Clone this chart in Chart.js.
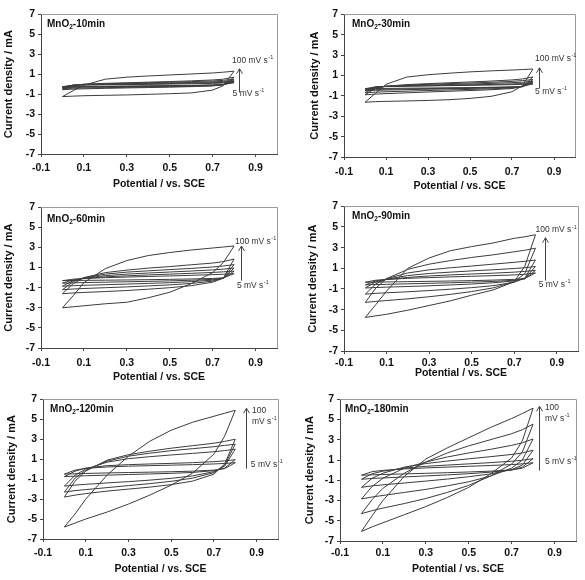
<!DOCTYPE html>
<html><head><meta charset="utf-8">
<script src="https://cdn.jsdelivr.net/npm/chart.js@4.4.1/dist/chart.umd.min.js"></script>
<style>
html,body{margin:0;padding:0;background:#fff;}
body{width:585px;height:580px;position:relative;overflow:hidden;}
canvas{position:absolute;}
</style></head><body>
<canvas id="c0"></canvas><canvas id="c1"></canvas><canvas id="c2"></canvas>
<canvas id="c3"></canvas><canvas id="c4"></canvas><canvas id="c5"></canvas>
<script>
// ---------- data ----------
const potential = [0, 0.05, 0.1, 0.2, 0.3, 0.4, 0.5, 0.6, 0.7, 0.75, 0.8];
const scanRates = [5, 10, 20, 30, 50, 100];
const xTicks = [-0.1, 0.1, 0.3, 0.5, 0.7, 0.9];
const yTicks = [-7, -5, -3, -1, 1, 3, 5, 7];
const panelNames = ['10min', '30min', '60min', '90min', '120min', '180min'];

// currents (mA) on the potential grid, one row per scan rate (5 -> 100 mV/s)
const anodic10 = [
  [-0.25, -0.1, -0.08, -0.06, -0.04, -0.02, 0.01, 0.04, 0.08, 0.11, 0.15],
  [-0.3, -0.1, -0.06, -0.03, 0.0, 0.03, 0.06, 0.1, 0.15, 0.18, 0.25],
  [-0.35, -0.1, -0.04, 0.0, 0.04, 0.08, 0.12, 0.17, 0.23, 0.27, 0.35],
  [-0.45, -0.12, -0.02, 0.04, 0.09, 0.14, 0.19, 0.25, 0.32, 0.38, 0.5],
  [-0.55, -0.15, 0.0, 0.08, 0.14, 0.2, 0.26, 0.33, 0.42, 0.5, 0.7],
  [-1.25, -0.65, -0.1, 0.5, 0.7, 0.82, 0.92, 1.02, 1.12, 1.2, 1.3]
];
const cathodic10 = [
  [-0.25, -0.23, -0.22, -0.21, -0.19, -0.17, -0.15, -0.12, -0.09, -0.05, 0.15],
  [-0.3, -0.27, -0.26, -0.24, -0.22, -0.2, -0.17, -0.14, -0.1, -0.05, 0.25],
  [-0.35, -0.32, -0.3, -0.28, -0.25, -0.22, -0.19, -0.16, -0.11, -0.04, 0.35],
  [-0.45, -0.41, -0.39, -0.35, -0.32, -0.29, -0.25, -0.21, -0.15, -0.05, 0.5],
  [-0.55, -0.5, -0.47, -0.42, -0.38, -0.34, -0.3, -0.25, -0.18, -0.05, 0.7],
  [-1.25, -1.2, -1.16, -1.12, -1.08, -1.02, -0.96, -0.88, -0.6, -0.15, 1.3]
];
const anodic30 = [
  [-0.3, -0.12, -0.09, -0.06, -0.03, 0.0, 0.03, 0.06, 0.1, 0.13, 0.18],
  [-0.4, -0.13, -0.08, -0.04, 0.0, 0.04, 0.08, 0.12, 0.17, 0.21, 0.28],
  [-0.5, -0.16, -0.07, 0.0, 0.06, 0.11, 0.16, 0.22, 0.29, 0.34, 0.42],
  [-0.7, -0.2, -0.06, 0.05, 0.13, 0.2, 0.26, 0.33, 0.42, 0.5, 0.6],
  [-0.9, -0.25, -0.05, 0.1, 0.2, 0.28, 0.36, 0.45, 0.56, 0.66, 0.85],
  [-1.63, -0.75, 0.13, 0.85, 1.07, 1.22, 1.35, 1.45, 1.53, 1.58, 1.63]
];
const cathodic30 = [
  [-0.3, -0.28, -0.27, -0.25, -0.23, -0.21, -0.19, -0.16, -0.12, -0.07, 0.18],
  [-0.4, -0.37, -0.35, -0.32, -0.29, -0.26, -0.23, -0.19, -0.14, -0.07, 0.28],
  [-0.5, -0.46, -0.43, -0.39, -0.35, -0.31, -0.27, -0.22, -0.16, -0.07, 0.42],
  [-0.7, -0.64, -0.6, -0.54, -0.48, -0.42, -0.37, -0.31, -0.22, -0.1, 0.6],
  [-0.9, -0.83, -0.78, -0.7, -0.62, -0.55, -0.48, -0.4, -0.28, -0.1, 0.85],
  [-1.63, -1.57, -1.54, -1.5, -1.45, -1.38, -1.25, -1.05, -0.6, 0.0, 1.63]
];
const anodic60 = [
  [-0.3, -0.15, -0.09, 0.0, 0.06, 0.12, 0.17, 0.23, 0.3, 0.34, 0.4],
  [-0.55, -0.22, -0.08, 0.08, 0.18, 0.27, 0.35, 0.43, 0.52, 0.58, 0.65],
  [-0.85, -0.3, -0.05, 0.2, 0.35, 0.46, 0.56, 0.66, 0.77, 0.85, 0.95],
  [-1.2, -0.4, 0.0, 0.35, 0.55, 0.68, 0.8, 0.92, 1.06, 1.16, 1.3],
  [-1.6, -0.6, 0.0, 0.5, 0.75, 0.95, 1.1, 1.28, 1.45, 1.6, 1.85],
  [-3.0, -1.8, -0.5, 0.9, 1.7, 2.2, 2.5, 2.75, 2.95, 3.05, 3.15]
];
const cathodic60 = [
  [-0.3, -0.28, -0.27, -0.25, -0.23, -0.2, -0.17, -0.13, -0.08, -0.02, 0.4],
  [-0.55, -0.52, -0.49, -0.45, -0.41, -0.37, -0.32, -0.26, -0.17, -0.05, 0.65],
  [-0.85, -0.8, -0.76, -0.7, -0.64, -0.57, -0.5, -0.4, -0.25, -0.05, 0.95],
  [-1.2, -1.13, -1.08, -1.0, -0.92, -0.82, -0.72, -0.58, -0.35, -0.05, 1.3],
  [-1.6, -1.52, -1.47, -1.38, -1.28, -1.15, -1.0, -0.8, -0.45, -0.05, 1.85],
  [-3.0, -2.9, -2.8, -2.6, -2.45, -2.0, -1.45, -0.6, 0.5, 1.5, 3.15]
];
const anodic90 = [
  [-0.35, -0.15, -0.08, 0.03, 0.1, 0.17, 0.23, 0.29, 0.36, 0.42, 0.55],
  [-0.6, -0.22, -0.08, 0.12, 0.26, 0.36, 0.45, 0.53, 0.63, 0.7, 0.8],
  [-0.9, -0.3, -0.05, 0.3, 0.5, 0.63, 0.75, 0.86, 0.98, 1.06, 1.18],
  [-1.5, -0.5, 0.0, 0.55, 0.85, 1.05, 1.22, 1.4, 1.58, 1.68, 1.8],
  [-2.3, -0.9, 0.0, 0.9, 1.4, 1.75, 2.05, 2.3, 2.6, 2.75, 2.95],
  [-3.75, -2.5, -1.2, 1.0, 2.0, 2.7, 3.1, 3.45, 3.9, 4.05, 4.25]
];
const cathodic90 = [
  [-0.35, -0.33, -0.32, -0.29, -0.26, -0.23, -0.19, -0.14, -0.07, 0.02, 0.55],
  [-0.6, -0.57, -0.55, -0.5, -0.45, -0.4, -0.34, -0.27, -0.16, -0.02, 0.8],
  [-0.9, -0.86, -0.82, -0.76, -0.69, -0.61, -0.52, -0.4, -0.22, 0.0, 1.18],
  [-1.5, -1.42, -1.37, -1.27, -1.15, -1.02, -0.87, -0.68, -0.35, 0.05, 1.8],
  [-2.3, -2.2, -2.12, -1.95, -1.75, -1.52, -1.25, -0.9, -0.3, 0.5, 2.95],
  [-3.75, -3.6, -3.45, -3.05, -2.6, -2.15, -1.6, -1.1, -0.3, 1.2, 4.25]
];
const anodic120 = [
  [-0.5, -0.1, 0.08, 0.22, 0.3, 0.35, 0.4, 0.45, 0.52, 0.57, 0.65],
  [-0.75, -0.2, 0.1, 0.35, 0.45, 0.52, 0.58, 0.65, 0.75, 0.83, 0.95],
  [-1.7, -0.6, 0.0, 0.7, 1.05, 1.25, 1.42, 1.58, 1.75, 1.86, 2.0],
  [-2.3, -0.9, -0.1, 0.8, 1.3, 1.6, 1.85, 2.05, 2.25, 2.38, 2.5],
  [-2.8, -1.2, -0.2, 0.9, 1.45, 1.8, 2.1, 2.35, 2.6, 2.78, 3.0],
  [-5.8, -4.5, -3.0, -0.6, 1.3, 2.8, 3.9, 4.7, 5.3, 5.6, 5.9]
];
const cathodic120 = [
  [-0.5, -0.46, -0.43, -0.38, -0.34, -0.3, -0.26, -0.2, -0.1, 0.05, 0.65],
  [-0.75, -0.7, -0.66, -0.6, -0.54, -0.48, -0.42, -0.33, -0.15, 0.1, 0.95],
  [-1.7, -1.6, -1.52, -1.38, -1.25, -1.1, -0.92, -0.68, -0.25, 0.3, 2.0],
  [-2.3, -2.15, -2.05, -1.85, -1.65, -1.45, -1.22, -0.9, -0.35, 0.4, 2.5],
  [-2.8, -2.6, -2.45, -2.2, -2.0, -1.8, -1.55, -1.2, -0.5, 0.5, 3.0],
  [-5.8, -5.4, -5.0, -4.3, -3.5, -2.6, -1.6, -0.4, 1.5, 3.3, 5.9]
];
const anodic180 = [
  [-0.5, -0.15, -0.02, 0.12, 0.22, 0.3, 0.38, 0.46, 0.55, 0.62, 0.73],
  [-0.9, -0.35, -0.1, 0.2, 0.38, 0.5, 0.62, 0.74, 0.88, 0.98, 1.13],
  [-1.7, -0.8, -0.3, 0.3, 0.65, 0.9, 1.12, 1.33, 1.55, 1.7, 1.97],
  [-2.85, -1.6, -0.8, 0.2, 0.8, 1.3, 1.7, 2.05, 2.45, 2.7, 3.08],
  [-4.3, -2.9, -1.8, -0.3, 0.8, 1.7, 2.4, 3.0, 3.6, 4.0, 4.55],
  [-6.05, -4.5, -3.0, -0.6, 1.1, 2.2, 3.2, 4.2, 5.1, 5.6, 6.12]
];
const cathodic180 = [
  [-0.5, -0.46, -0.43, -0.37, -0.31, -0.25, -0.18, -0.1, 0.02, 0.2, 0.73],
  [-0.9, -0.82, -0.77, -0.67, -0.57, -0.47, -0.35, -0.2, 0.02, 0.3, 1.13],
  [-1.7, -1.55, -1.45, -1.27, -1.08, -0.88, -0.65, -0.38, 0.05, 0.5, 1.97],
  [-2.85, -2.65, -2.5, -2.2, -1.9, -1.55, -1.15, -0.6, 0.2, 1.0, 3.08],
  [-4.3, -4.0, -3.75, -3.3, -2.8, -2.2, -1.5, -0.6, 0.6, 1.8, 4.55],
  [-6.05, -5.6, -5.2, -4.4, -3.6, -2.7, -1.7, -0.4, 1.2, 2.9, 6.12]
];

const anodicSets = [anodic10, anodic30, anodic60, anodic90, anodic120, anodic180];
const cathodicSets = [cathodic10, cathodic30, cathodic60, cathodic90, cathodic120, cathodic180];

// ---------- layout (pixels) ----------
const layouts = [
  {left: 0,   top: 5,   w: 285, h: 188, yW: 41, xH: 39, padTop: 8, padRight: 8, tickPad: 5},
  {left: 306, top: 5,   w: 277, h: 190, yW: 38, xH: 38, padTop: 8, padRight: 8, tickPad: 6},
  {left: 0,   top: 198, w: 285, h: 188, yW: 41, xH: 38, padTop: 8, padRight: 8, tickPad: 6},
  {left: 304, top: 197, w: 281, h: 185, yW: 40, xH: 31, padTop: 8, padRight: 7, tickPad: 3},
  {left: 3,   top: 390, w: 283, h: 188, yW: 40, xH: 39, padTop: 8, padRight: 8, tickPad: 5},
  {left: 301, top: 390, w: 283, h: 188, yW: 39, xH: 37, padTop: 8, padRight: 8, tickPad: 3}
];
// annotation anchors in data coordinates
const notes = [
  {lab: [-0.072, 6.0], hi: [0.79, 2.33], twoLine: false, lo: [0.793, -0.94], arrow: [0.823, -0.84, 1.54]},
  {lab: [-0.062, 6.03], hi: [0.81, 2.63], twoLine: false, lo: [0.81, -0.58], arrow: [0.828, -0.29, 1.75]},
  {lab: [-0.072, 5.82], hi: [0.804, 3.55], twoLine: false, lo: [0.813, -0.79], arrow: [0.832, -0.3, 3.15]},
  {lab: [-0.062, 6.04], hi: [0.80, 4.7], twoLine: false, lo: [0.815, -0.58], arrow: [0.845, -0.19, 3.96]},
  {lab: [-0.067, 6.0], hi: [0.878, 5.9], twoLine: true, lo: [0.873, 0.45], arrow: [0.85, 0.05, 6.1]},
  {lab: [-0.077, 6.02], hi: [0.855, 6.2], twoLine: true, lo: [0.855, 0.83], arrow: [0.827, -0.05, 6.31]}
];

const FAM = "'Liberation Sans', Arial, sans-serif";

function drawUnit(ctx, x, y, prefix) {
  ctx.font = '8.5px ' + FAM;
  const t = prefix + 'mV s';
  ctx.fillText(t, x, y);
  const w = ctx.measureText(t).width;
  ctx.font = '5.5px ' + FAM;
  ctx.fillText('-1', x + w + 0.5, y - 3);
}

const decor = {
  id: 'decor',
  afterDatasetsDraw(chart, args, opts) {
    const {ctx, chartArea: a, scales: {x, y}} = chart;
    const n = opts.note;
    ctx.save();
    // frame top/right
    ctx.strokeStyle = '#9a9a9a';
    ctx.lineWidth = 1;
    ctx.beginPath();
    ctx.moveTo(a.left, Math.round(a.top) + 0.5);
    ctx.lineTo(Math.round(a.right) + 0.5, Math.round(a.top) + 0.5);
    ctx.lineTo(Math.round(a.right) + 0.5, a.bottom);
    ctx.stroke();
    // panel label with subscript
    ctx.fillStyle = '#111';
    ctx.textBaseline = 'middle';
    ctx.textAlign = 'left';
    let px = x.getPixelForValue(n.lab[0]);
    const py = y.getPixelForValue(n.lab[1]);
    ctx.font = 'bold 10px ' + FAM;
    ctx.fillText('MnO', px, py);
    px += ctx.measureText('MnO').width;
    ctx.font = 'bold 6.5px ' + FAM;
    ctx.fillText('2', px, py + 3);
    px += ctx.measureText('2').width;
    ctx.font = 'bold 10px ' + FAM;
    ctx.fillText('-' + opts.name, px, py);
    // scan-rate labels
    ctx.fillStyle = '#333';
    const hx = x.getPixelForValue(n.hi[0]);
    const hy = y.getPixelForValue(n.hi[1]);
    if (n.twoLine) {
      ctx.font = '8.5px ' + FAM;
      ctx.fillText('100', hx, hy);
      drawUnit(ctx, hx, hy + 11, '');
    } else {
      drawUnit(ctx, hx, hy, '100 ');
    }
    drawUnit(ctx, x.getPixelForValue(n.lo[0]), y.getPixelForValue(n.lo[1]), '5 ');
    // arrow
    const ax = Math.round(x.getPixelForValue(n.arrow[0])) + 0.5;
    const ay1 = y.getPixelForValue(n.arrow[1]);
    const ay2 = y.getPixelForValue(n.arrow[2]);
    ctx.strokeStyle = '#444';
    ctx.lineWidth = 1;
    ctx.beginPath();
    ctx.moveTo(ax, ay1); ctx.lineTo(ax, ay2);
    ctx.moveTo(ax - 3, ay2 + 5); ctx.lineTo(ax, ay2); ctx.lineTo(ax + 3, ay2 + 5);
    ctx.stroke();
    ctx.restore();
  }
};

function loopPoints(up, down) {
  const pts = potential.map((e, i) => ({x: e, y: up[i]}));
  for (let i = potential.length - 1; i >= 0; i--) pts.push({x: potential[i], y: down[i]});
  return pts;
}

panelNames.forEach((name, p) => {
  const L = layouts[p];
  const cv = document.getElementById('c' + p);
  cv.width = L.w; cv.height = L.h;
  cv.style.left = L.left + 'px'; cv.style.top = L.top + 'px';
  cv.style.width = L.w + 'px'; cv.style.height = L.h + 'px';
  const datasets = scanRates.map((r, k) => ({
    label: r + ' mV/s',
    data: loopPoints(anodicSets[p][k], cathodicSets[p][k]),
    showLine: true, borderColor: '#3c3c3c', borderWidth: 1,
    pointRadius: 0, fill: false, tension: 0
  }));
  new Chart(cv, {
    type: 'scatter',
    data: {datasets},
    options: {
      responsive: false, animation: false, devicePixelRatio: 1,
      layout: {padding: {top: L.padTop, right: L.padRight, left: 0, bottom: 0}},
      plugins: {legend: {display: false}, tooltip: {enabled: false},
                decor: {note: notes[p], name}},
      scales: {
        x: {
          type: 'linear', min: -0.1, max: 1.0,
          afterBuildTicks: s => { s.ticks = xTicks.map(v => ({value: v})); },
          afterFit: s => { s.height = L.xH; },
          ticks: {callback: v => Number(v).toFixed(1), color: '#111', padding: L.tickPad,
                  maxRotation: 0, autoSkip: false, font: {family: FAM, size: 10.5, weight: 'bold'}},
          grid: {display: true, drawOnChartArea: false, drawTicks: true, tickLength: 3, color: '#444'},
          border: {display: true, color: '#444', width: 1},
          title: {display: true, text: 'Potential / vs. SCE', color: '#111',
                  font: {family: FAM, size: 10.5, weight: 'bold'}, padding: {top: 0, bottom: 3}}
        },
        y: {
          type: 'linear', min: -7, max: 7,
          afterBuildTicks: s => { s.ticks = yTicks.map(v => ({value: v})); },
          afterFit: s => { s.width = L.yW; },
          ticks: {callback: v => String(v), color: '#111', padding: 3,
                  autoSkip: false, font: {family: FAM, size: 10.5, weight: 'bold'}},
          grid: {display: true, drawOnChartArea: false, drawTicks: true, tickLength: 3, color: '#444'},
          border: {display: true, color: '#444', width: 1},
          title: {display: true, text: 'Current density / mA', color: '#111',
                  font: {family: FAM, size: 11, weight: 'bold'}, padding: {top: 2, bottom: 0}}
        }
      }
    },
    plugins: [decor]
  });
});
</script>
</body></html>
